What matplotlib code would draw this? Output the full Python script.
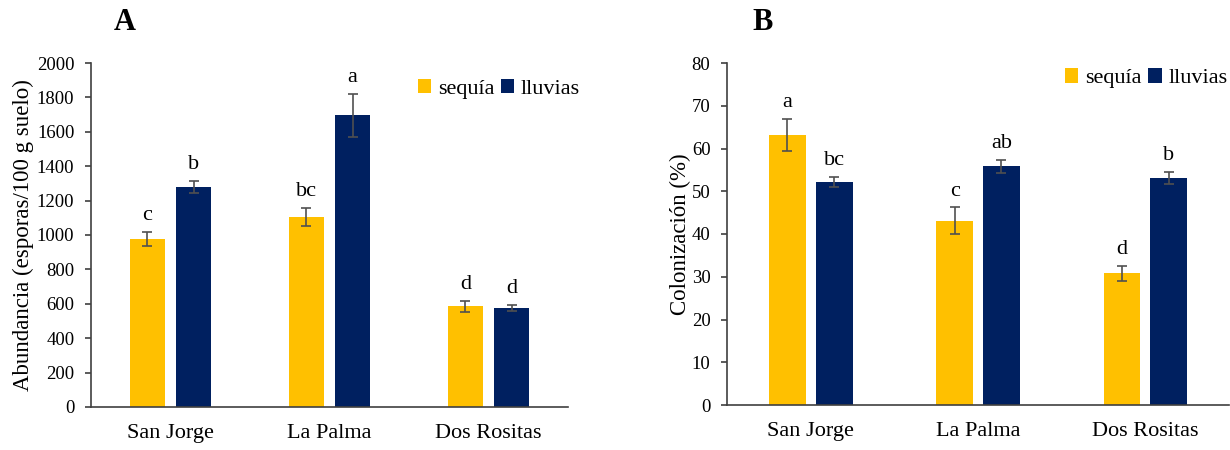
import matplotlib.pyplot as plt
import numpy as np

plt.rcParams["font.family"] = ["Liberation Serif", "DejaVu Serif"]

sites = ["San Jorge", "La Palma", "Dos Rositas"]
series = ["sequía", "lluvias"]
colors = ["#FFC000", "#002060"]

# panel A: abundancia
abund_seq = [978, 1105, 585]
abund_seq_err = [41, 53, 34]
abund_llu = [1280, 1695, 576]
abund_llu_err = [33, 126, 18]
abund_seq_let = ["c", "bc", "d"]
abund_llu_let = ["b", "a", "d"]

# panel B: colonizacion
colon_seq = [63.1, 43.1, 30.8]
colon_seq_err = [3.7, 3.1, 1.7]
colon_llu = [52.2, 55.8, 53.0]
colon_llu_err = [1.1, 1.5, 1.4]
colon_seq_let = ["a", "c", "d"]
colon_llu_let = ["bc", "ab", "b"]

fig = plt.figure(figsize=(12.3, 4.5), dpi=100)
ax_a = fig.add_axes([0.0740, 0.0956, 0.3878, 0.7644])
ax_b = fig.add_axes([0.5911, 0.1000, 0.4081, 0.7600])

axis_col = "#404040"
err_col = "#505050"


def draw_panel(ax, vals, errs, lets, ymax, ystep, ylabel, offset, width,
               leg_anchor, ylab_x):
    x = np.arange(len(sites))
    for k, (v, e, l) in enumerate(zip(vals, errs, lets)):
        pos = x + (-offset if k == 0 else offset)
        ax.bar(pos, v, width=width, color=colors[k], label=series[k], zorder=2)
        ax.errorbar(pos, v, yerr=e, fmt="none", ecolor=err_col, elinewidth=1.2,
                    capsize=3.5, capthick=1.2, zorder=3)
        for xi, vi, ei, li in zip(pos, v, e, l):
            ax.annotate(li, (xi, vi + ei), xytext=(0, 5), textcoords="offset points",
                        ha="center", va="bottom", fontsize=16)
    ax.set_xlim(-0.5, 2.5)
    ax.set_ylim(0, ymax)
    ax.set_yticks(np.arange(0, ymax + ystep / 2, ystep))
    ax.set_xticks(x)
    ax.set_xticklabels(sites, fontsize=16)
    ax.tick_params(axis="x", length=0, pad=12)
    ax.tick_params(axis="y", labelsize=13.5, length=4, width=1.2, color=axis_col, pad=8)
    for s in ["top", "right"]:
        ax.spines[s].set_visible(False)
    for s in ["left", "bottom"]:
        ax.spines[s].set_color(axis_col)
        ax.spines[s].set_linewidth(1.2)
    ax.set_ylabel(ylabel, fontsize=16.5)
    ax.yaxis.set_label_coords(ylab_x, 0.5)
    ax.legend(loc="center", bbox_to_anchor=leg_anchor, ncol=2, frameon=False,
              fontsize=16, handlelength=0.6, handleheight=0.6, handletextpad=0.3,
              columnspacing=0.3, borderpad=0)


draw_panel(ax_a, [abund_seq, abund_llu], [abund_seq_err, abund_llu_err],
           [abund_seq_let, abund_llu_let], 2000, 200,
           "Abundancia (esporas/100 g suelo)", 0.145, 0.225, (0.855, 0.925), -0.12)
draw_panel(ax_b, [colon_seq, colon_llu], [colon_seq_err, colon_llu_err],
           [colon_seq_let, colon_llu_let], 80, 10,
           "Colonización (%)", 0.14, 0.22, (0.835, 0.955), -0.072)

fig.text(125 / 1230, 1 - 22 / 450, "A", fontsize=22, fontweight="bold",
         ha="center", va="center")
fig.text(763 / 1230, 1 - 22 / 450, "B", fontsize=22, fontweight="bold",
         ha="center", va="center")

fig.savefig("out.png", dpi=100)
